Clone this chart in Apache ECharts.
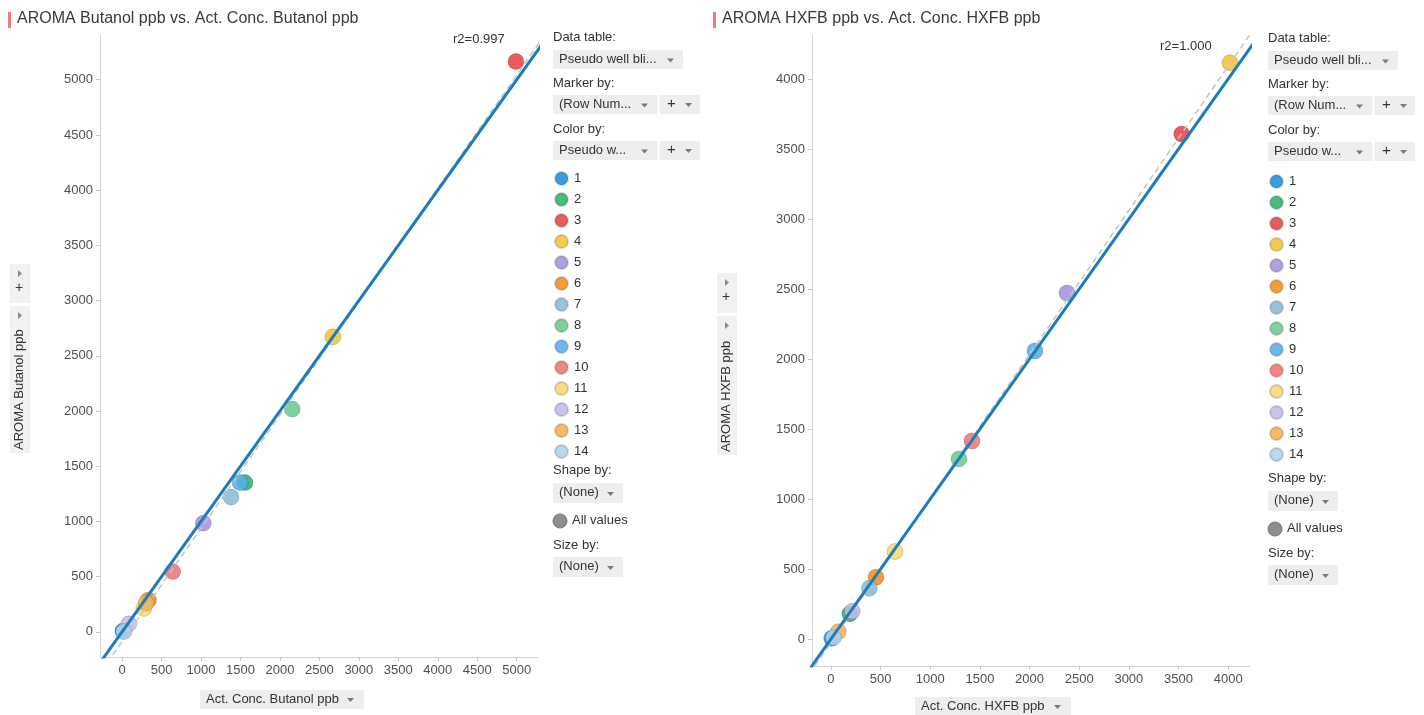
<!DOCTYPE html>
<html>
<head>
<meta charset="utf-8">
<title>AROMA vs. Act. Conc.</title>
<script src="https://cdn.jsdelivr.net/npm/echarts@6/dist/echarts.min.js"></script>
<style>
  html, body { margin: 0; padding: 0; background: #fff; }
  #chart { width: 1424px; height: 715px; }
</style>
</head>
<body>
<div id="chart"></div>
<script>
// Well categories (Color by: Pseudo well) and their colours
const categories = ['1', '2', '3', '4', '5', '6', '7', '8', '9', '10', '11', '12', '13', '14'];
const categoryColors = ['#1E8FD9', '#2DB36A', '#E84444', '#F2C534', '#A593DD', '#F2901C', '#8DBAD6',
  '#6CCB8E', '#55AFEA', '#EE7575', '#F6D96C', '#C5B9E8', '#F5B04F', '#AED3EA'];

// Butanol: actual concentration vs. AROMA reading (ppb), one value per well
const butanolActual = [10, 1557, 4990, 2671, 1029, 335, 1380, 2156, 1494, 641, 275, 85, 305, 22];
const butanolAroma  = [8, 1352, 5165, 2672, 984, 288, 1220, 2017, 1352, 546, 212, 72, 262, 2];

// HXFB: actual concentration vs. AROMA reading (ppb), one value per well
const hxfbActual = [7, 190, 3532, 4018, 2377, 453, 386, 1289, 2054, 1420, 645, 215, 74, 25];
const hxfbAroma  = [5, 180, 3607, 4116, 2471, 441, 362, 1286, 2057, 1414, 624, 198, 52, 10];

// Tick labels
const butanolXTicks = [0, 500, 1000, 1500, 2000, 2500, 3000, 3500, 4000, 4500, 5000];
const butanolYTicks = [0, 500, 1000, 1500, 2000, 2500, 3000, 3500, 4000, 4500, 5000];
const hxfbXTicks = [0, 500, 1000, 1500, 2000, 2500, 3000, 3500, 4000];
const hxfbYTicks = [0, 500, 1000, 1500, 2000, 2500, 3000, 3500, 4000];

const r2Labels = ['r2=0.997', 'r2=1.000'];

const FONT = '"Liberation Sans", Arial, sans-serif';
const TEXT = '#333';

// Axis ranges of the two plots
const ranges = [
  { x: [-280, 5270], y: [-228, 5405] },
  { x: [-191, 4220], y: [-193, 4314] }
];

function linearFit(xs, ys) {
  const n = xs.length;
  let sx = 0, sy = 0, sxx = 0, sxy = 0;
  for (let i = 0; i < n; i++) { sx += xs[i]; sy += ys[i]; sxx += xs[i] * xs[i]; sxy += xs[i] * ys[i]; }
  const slope = (n * sxy - sx * sy) / (n * sxx - sx * sx);
  return { slope, intercept: (sy - slope * sx) / n };
}

function valueAxis(gridIndex, range, ticks) {
  return {
    type: 'value', gridIndex, min: range[0], max: range[1],
    axisLine: { show: true, onZero: false, lineStyle: { color: '#D2D2D2', width: 1 } },
    axisTick: { show: true, length: 4, customValues: ticks, lineStyle: { color: '#C8C8C8' } },
    axisLabel: { customValues: ticks, color: '#505050', fontSize: 13, fontFamily: FONT,
      margin: 7, formatter: v => String(v) },
    splitLine: { show: false }
  };
}

const series = [];
function addPlot(idx, xs, ys) {
  categories.forEach((c, i) => {
    series.push({
      name: c, type: 'scatter', xAxisIndex: idx, yAxisIndex: idx,
      symbolSize: 16, z: 3,
      itemStyle: { color: categoryColors[i], opacity: 0.88, borderColor: 'rgba(0,0,0,0.18)', borderWidth: 1 },
      data: [[xs[i], ys[i]]]
    });
  });
  const r = ranges[idx];
  // 1:1 reference line
  series.push({
    type: 'line', xAxisIndex: idx, yAxisIndex: idx, symbol: 'none', clip: true, z: 5, silent: true,
    lineStyle: { color: '#1C7DBA', width: 3 },
    data: [[Math.min(r.x[0], r.y[0]) - 100, Math.min(r.x[0], r.y[0]) - 100],
           [Math.max(r.x[1], r.y[1]) + 100, Math.max(r.x[1], r.y[1]) + 100]]
  });
  // least-squares fit of the points
  const f = linearFit(xs, ys);
  const x0 = r.x[0] - 200, x1 = r.x[1] + 200;
  series.push({
    type: 'line', xAxisIndex: idx, yAxisIndex: idx, symbol: 'none', clip: true, z: 4, silent: true,
    lineStyle: { color: '#C4C4C4', width: 1.5, type: [6, 4] },
    data: [[x0, f.slope * x0 + f.intercept], [x1, f.slope * x1 + f.intercept]]
  });
}
addPlot(0, butanolActual, butanolAroma);
addPlot(1, hxfbActual, hxfbAroma);

// ---- side panel widgets ----
const graphics = [];
function text(x, y, s, opts) {
  graphics.push({ type: 'text', left: x, top: y, silent: true,
    style: Object.assign({ text: s, fill: TEXT, font: '13px ' + FONT }, opts || {}) });
}
function arrow(x, y) {
  graphics.push({ type: 'polygon', silent: true,
    shape: { points: [[x, y], [x + 7, y], [x + 3.5, y + 4]] }, style: { fill: '#7A7A7A' } });
}
function box(x, y, w, h, label) {
  graphics.push({ type: 'rect', silent: true, shape: { x, y, width: w, height: h }, style: { fill: '#EEEEEE' } });
  text(x + 6, y + 3, label);
  arrow(x + w - 16, y + h / 2 - 1);
}
function plusBox(x, y) {
  graphics.push({ type: 'rect', silent: true, shape: { x, y, width: 40, height: 19 }, style: { fill: '#EEEEEE' } });
  text(x + 7, y + 1, '+', { font: '15px ' + FONT });
  arrow(x + 25, y + 8);
}
function panel(x, dy, sy) {
  text(x, 31 + dy, 'Data table:');
  box(x, 50 + dy, 130, 19, 'Pseudo well bli...');
  text(x, 77 + dy, 'Marker by:');
  box(x, 95 + dy, 104, 19, '(Row Num...');
  plusBox(x + 107, 95 + dy);
  text(x, 123 + dy, 'Color by:');
  box(x, 141 + dy, 104, 19, 'Pseudo w...');
  plusBox(x + 107, 141 + dy);
  text(x, sy, 'Shape by:');
  box(x, sy + 19, 70, 20, '(None)');
  graphics.push({ type: 'circle', silent: true, shape: { cx: x + 7, cy: sy + 57, r: 7 },
    style: { fill: '#8E8E8E', stroke: '#777', lineWidth: 1 } });
  text(x + 19, sy + 50, 'All values');
  text(x, sy + 75, 'Size by:');
  box(x, sy + 93, 70, 20, '(None)');
}
panel(553, 0, 464);
panel(1268, 1, 472);

// titles with red marker bar
function title(x, s) {
  graphics.push({ type: 'rect', silent: true, shape: { x, y: 12, width: 3, height: 16 }, style: { fill: '#EE7A7A' } });
  text(x + 9, 11, s, { font: '16px ' + FONT, fill: '#3A3A3A' });
}
title(8, 'AROMA Butanol ppb vs. Act. Conc. Butanol ppb');
title(713, 'AROMA HXFB ppb vs. Act. Conc. HXFB ppb');

// r² labels
text(453, 33, r2Labels[0]);
text(1160, 40, r2Labels[1]);

// axis selector for x
function xSelector(x, y, w, label) {
  graphics.push({ type: 'rect', silent: true, shape: { x, y, width: w, height: 19 }, style: { fill: '#EEEEEE' } });
  text(x + 6, y + 3, label);
  arrow(x + w - 17, y + 8);
}
xSelector(200, 690, 164, 'Act. Conc. Butanol ppb');
xSelector(915, 697, 156, 'Act. Conc. HXFB ppb');

// axis selector for y (vertical strip)
function ySelector(x, yTop, yMid, yBottom, label) {
  graphics.push({ type: 'rect', silent: true, shape: { x, y: yTop, width: 20, height: yMid - yTop - 3 }, style: { fill: '#F1F1F1' } });
  graphics.push({ type: 'rect', silent: true, shape: { x, y: yMid, width: 20, height: yBottom - yMid }, style: { fill: '#F1F1F1' } });
  graphics.push({ type: 'polygon', silent: true,
    shape: { points: [[x + 8, yTop + 6], [x + 12, yTop + 9.5], [x + 8, yTop + 13]] }, style: { fill: '#8A8A8A' } });
  text(x + 5, yTop + 17, '+', { font: '14px ' + FONT });
  graphics.push({ type: 'polygon', silent: true,
    shape: { points: [[x + 8, yMid + 6], [x + 12, yMid + 9.5], [x + 8, yMid + 13]] }, style: { fill: '#8A8A8A' } });
  graphics.push({ type: 'text', silent: true, x: x + 3, y: yBottom - 3, rotation: Math.PI / 2,
    style: { text: label, fill: TEXT, font: '13px ' + FONT, textAlign: 'left', textVerticalAlign: 'top' } });
}
ySelector(10, 264, 306, 453, 'AROMA Butanol ppb');
ySelector(717, 273, 316, 455, 'AROMA HXFB ppb');

function legend(left, top) {
  return {
    data: categories, orient: 'vertical', left, top,
    icon: 'circle', itemWidth: 13, itemHeight: 13, itemGap: 6,
    textStyle: { color: TEXT, fontSize: 13, fontFamily: FONT, padding: [0, 0, 0, 1] },
    selectedMode: false
  };
}

const chart = echarts.init(document.getElementById('chart'));
chart.setOption({
  animation: false,
  backgroundColor: '#fff',
  grid: [
    { left: 100, top: 35, width: 438, height: 622 },
    { left: 812, top: 35, width: 438, height: 631 }
  ],
  xAxis: [
    valueAxis(0, ranges[0].x, butanolXTicks),
    valueAxis(1, ranges[1].x, hxfbXTicks)
  ],
  yAxis: [
    valueAxis(0, ranges[0].y, butanolYTicks),
    valueAxis(1, ranges[1].y, hxfbYTicks)
  ],
  legend: [legend(549, 166), legend(1264, 169)],
  series,
  graphic: graphics
});
</script>
</body>
</html>
